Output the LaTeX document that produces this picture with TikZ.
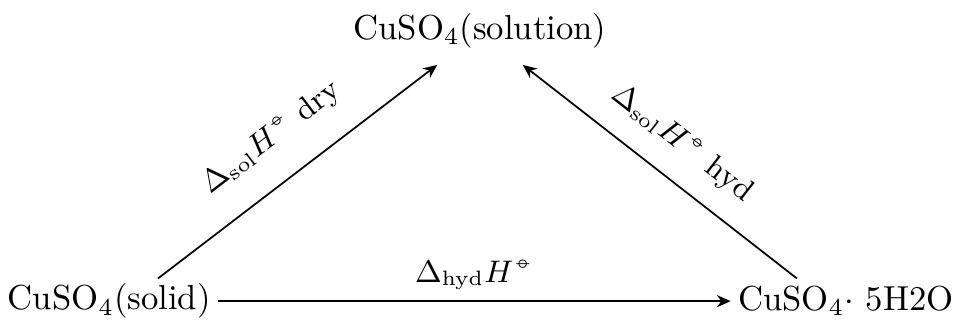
\documentclass[tikz,border=0pt]{standalone}
\usepackage{amsmath}
\usetikzlibrary{arrows.meta}
\newcommand{\stdstate}{\ooalign{\hfil$\scriptscriptstyle\circ$\hfil\cr\hfil$\scriptscriptstyle-$\hfil\cr}}
\begin{document}
\begin{tikzpicture}[x=1pt,y=1pt,
  chem/.style={inner sep=1pt, font=\normalsize},
  rxn/.style={-{Stealth[length=4pt,width=3.5pt]}, line width=0.5pt, shorten >=1pt, shorten <=1pt},
  lbl/.style={font=\small, inner sep=2pt}]
\useasboundingbox (0,0) rectangle (276.4,93.4);
\node[chem] (sol) at (138.3,84.5) {CuSO$_4$(solution)};
\node[chem] (dry) at (31.5,6.6) {CuSO$_4$(solid)};
\node[chem] (hyd) at (243.8,6.6) {CuSO$_4\cdot$ 5H2O};
\coordinate (dryT) at (44.7,12.5);
\coordinate (solL) at (126.8,75.3);
\coordinate (hydT) at (230.5,12.5);
\coordinate (solR) at (149.9,75.3);
\draw[rxn] (dryT) -- node[lbl, sloped, above=6pt, pos=0.5] {$\Delta_{\mathrm{sol}}H^{\stdstate}$ dry} (solL);
\draw[rxn] (hydT) -- node[lbl, sloped, above=4pt, pos=0.5] {$\Delta_{\mathrm{sol}}H^{\stdstate}$ hyd} (solR);
\draw[rxn] (dry.east) -- node[lbl, above=1pt] {$\Delta_{\mathrm{hyd}}H^{\stdstate}$} (hyd.west);
\end{tikzpicture}
\end{document}
